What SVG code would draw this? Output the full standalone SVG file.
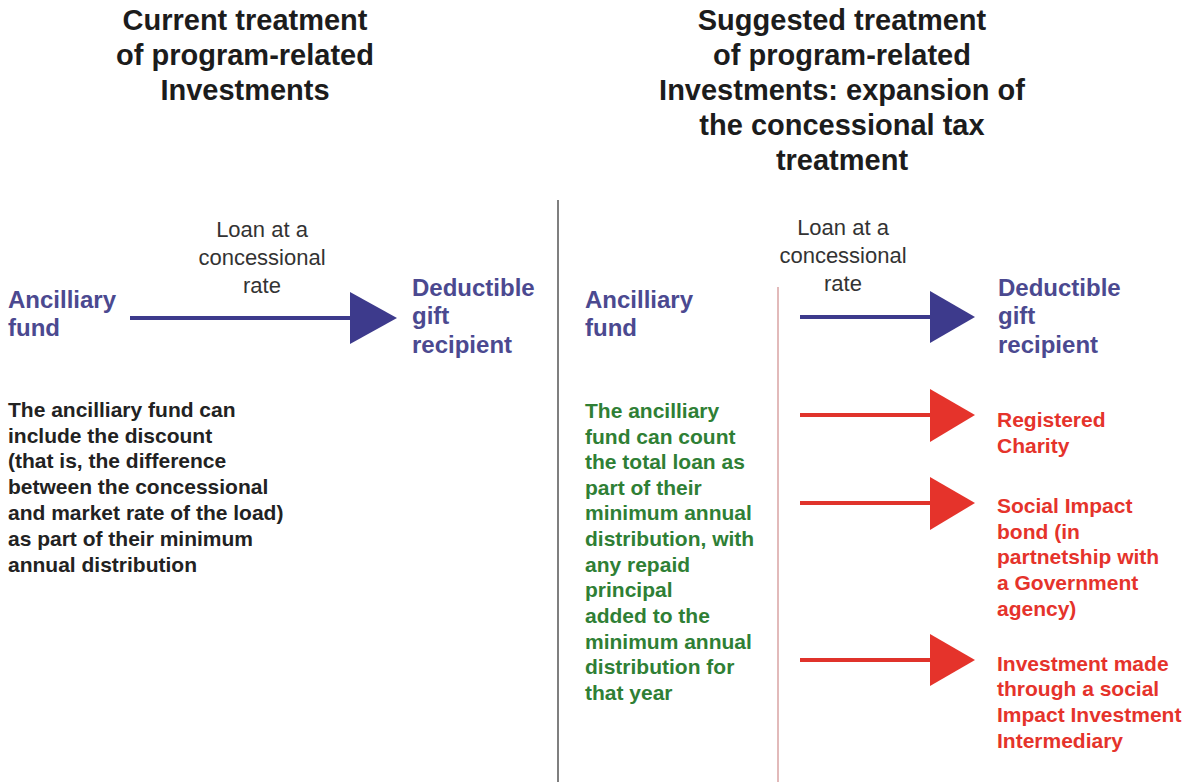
<svg xmlns="http://www.w3.org/2000/svg" width="1188" height="782" viewBox="0 0 1188 782">
<style>
text{font-family:"Liberation Sans",Arial,sans-serif}
.title{font-size:29px;font-weight:bold;fill:#1c1c1c;text-anchor:middle}
.loan{font-size:22px;fill:#333333;text-anchor:middle}
.blue{font-size:24px;font-weight:bold;fill:#4b4990}
.black{font-size:21px;font-weight:bold;fill:#222222}
.green{font-size:21px;font-weight:bold;fill:#2f7f35}
.red{font-size:21px;font-weight:bold;fill:#e5332b}
.bline{stroke:#3d3a8c;stroke-width:4}
.bhead{fill:#3d3a8c}
.rline{stroke:#e0332b;stroke-width:4}
.rhead{fill:#e5332b}
</style>
<rect width="1188" height="782" fill="#ffffff"/>
<g id="title-current">
<text class="title" x="245" y="30">Current treatment</text>
<text class="title" x="245" y="65">of program-related</text>
<text class="title" x="245" y="100">Investments</text>
</g>
<g id="title-suggested">
<text class="title" x="842" y="30">Suggested treatment</text>
<text class="title" x="842" y="65">of program-related</text>
<text class="title" x="842" y="100">Investments: expansion of</text>
<text class="title" x="842" y="135">the concessional tax</text>
<text class="title" x="842" y="170">treatment</text>
</g>
<g id="dividers">
<line x1="558" y1="200" x2="558" y2="782" stroke="#555555" stroke-width="1.5"/>
<line x1="778" y1="287" x2="778" y2="782" stroke="#d8a3a3" stroke-width="1.5"/>
</g>
<g id="left-fund">
<text class="blue" x="8" y="308">Ancilliary</text>
<text class="blue" x="8" y="336">fund</text>
</g>
<g id="left-recipient">
<text class="blue" x="412" y="296">Deductible</text>
<text class="blue" x="412" y="324">gift</text>
<text class="blue" x="412" y="353">recipient</text>
</g>
<g id="left-note">
<text class="black" x="8" y="417">The ancilliary fund can</text>
<text class="black" x="8" y="443">include the discount</text>
<text class="black" x="8" y="468">(that is, the difference</text>
<text class="black" x="8" y="494">between the concessional</text>
<text class="black" x="8" y="520">and market rate of the load)</text>
<text class="black" x="8" y="546">as part of their minimum</text>
<text class="black" x="8" y="572">annual distribution</text>
</g>
<g id="right-fund">
<text class="blue" x="585" y="308">Ancilliary</text>
<text class="blue" x="585" y="336">fund</text>
</g>
<g id="right-recipient">
<text class="blue" x="998" y="296">Deductible</text>
<text class="blue" x="998" y="324">gift</text>
<text class="blue" x="998" y="353">recipient</text>
</g>
<g id="right-note">
<text class="green" x="585" y="418">The ancilliary</text>
<text class="green" x="585" y="444">fund can count</text>
<text class="green" x="585" y="469">the total loan as</text>
<text class="green" x="585" y="495">part of their</text>
<text class="green" x="585" y="520">minimum annual</text>
<text class="green" x="585" y="546">distribution, with</text>
<text class="green" x="585" y="572">any repaid</text>
<text class="green" x="585" y="597">principal</text>
<text class="green" x="585" y="623">added to the</text>
<text class="green" x="585" y="649">minimum annual</text>
<text class="green" x="585" y="674">distribution for</text>
<text class="green" x="585" y="700">that year</text>
</g>
<g id="registered-charity">
<text class="red" x="997" y="427">Registered</text>
<text class="red" x="997" y="453">Charity</text>
</g>
<g id="social-impact-bond">
<text class="red" x="997" y="513">Social Impact</text>
<text class="red" x="997" y="539">bond (in</text>
<text class="red" x="997" y="564">partnetship with</text>
<text class="red" x="997" y="590">a Government</text>
<text class="red" x="997" y="616">agency)</text>
</g>
<g id="sii-intermediary">
<text class="red" x="997" y="671">Investment made</text>
<text class="red" x="997" y="696">through a social</text>
<text class="red" x="997" y="722">Impact Investment</text>
<text class="red" x="997" y="748">Intermediary</text>
</g>
<g id="connectors">
<g id="left-loan">
<line class="bline" x1="130" y1="318" x2="352" y2="318"/>
<polygon class="bhead" points="350,292 397,318 350,344"/>
<text class="loan" x="262" y="237">Loan at a</text>
<text class="loan" x="262" y="265">concessional</text>
<text class="loan" x="262" y="293">rate</text>
</g>
<g id="right-loan">
<line class="bline" x1="800" y1="317" x2="932" y2="317"/>
<polygon class="bhead" points="930,291 975,317 930,343"/>
<text class="loan" x="843" y="235">Loan at a</text>
<text class="loan" x="843" y="263">concessional</text>
<text class="loan" x="843" y="291">rate</text>
</g>
<line class="rline" x1="800" y1="415" x2="932" y2="415"/>
<polygon class="rhead" points="930,389 975,415 930,442"/>
<line class="rline" x1="800" y1="503" x2="932" y2="503"/>
<polygon class="rhead" points="930,477 975,503 930,530"/>
<line class="rline" x1="800" y1="660" x2="932" y2="660"/>
<polygon class="rhead" points="930,634 975,660 930,686"/>
</g>
</svg>
